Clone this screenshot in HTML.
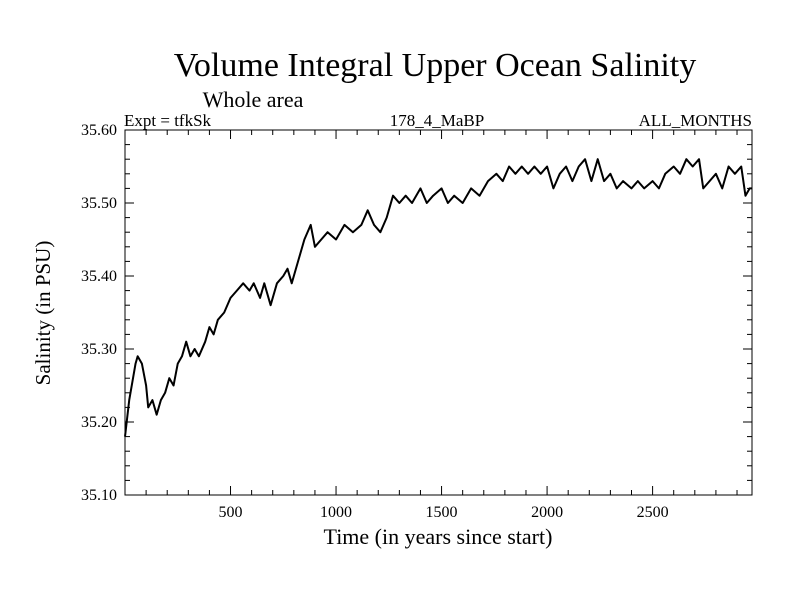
<!DOCTYPE html>
<html><head><meta charset="utf-8"><style>
body{margin:0;background:#fff;}
svg{display:block;font-family:"Liberation Serif",serif;}
</style></head><body>
<svg id="chart" width="800" height="600">
<text x="435" y="76" font-size="34" text-anchor="middle">Volume Integral Upper Ocean Salinity</text>
<text x="253" y="107" font-size="22" text-anchor="middle">Whole area</text>
<text x="124" y="126" font-size="17">Expt = tfkSk</text>
<text x="437" y="126" font-size="17" text-anchor="middle">178_4_MaBP</text>
<text x="752" y="126" font-size="17" text-anchor="end">ALL_MONTHS</text>
<text x="438" y="544" font-size="22" text-anchor="middle">Time (in years since start)</text>
<text transform="translate(50,313) rotate(-90)" font-size="21" text-anchor="middle">Salinity (in PSU)</text>
<g id="axes"></g>
<rect x="125" y="130" width="627" height="365" fill="none" stroke="#000" stroke-width="1"/>
</svg>
<script>
const years=[0,20,50,60,80,100,110,130,150,170,190,210,230,250,270,290,310,330,350,380,400,420,440,470,500,530,560,590,610,640,660,690,720,750,770,790,820,850,880,900,930,960,1000,1040,1080,1120,1150,1180,1210,1240,1270,1300,1330,1360,1400,1430,1460,1500,1530,1560,1600,1640,1680,1720,1760,1790,1820,1850,1880,1910,1940,1970,2000,2030,2060,2090,2120,2150,2180,2210,2240,2270,2300,2330,2360,2400,2430,2460,2500,2530,2560,2600,2630,2660,2690,2720,2740,2770,2800,2830,2860,2890,2920,2940,2960,2971];
const salinity=[35.18,35.23,35.28,35.29,35.28,35.25,35.22,35.23,35.21,35.23,35.24,35.26,35.25,35.28,35.29,35.31,35.29,35.30,35.29,35.31,35.33,35.32,35.34,35.35,35.37,35.38,35.39,35.38,35.39,35.37,35.39,35.36,35.39,35.40,35.41,35.39,35.42,35.45,35.47,35.44,35.45,35.46,35.45,35.47,35.46,35.47,35.49,35.47,35.46,35.48,35.51,35.50,35.51,35.50,35.52,35.50,35.51,35.52,35.50,35.51,35.50,35.52,35.51,35.53,35.54,35.53,35.55,35.54,35.55,35.54,35.55,35.54,35.55,35.52,35.54,35.55,35.53,35.55,35.56,35.53,35.56,35.53,35.54,35.52,35.53,35.52,35.53,35.52,35.53,35.52,35.54,35.55,35.54,35.56,35.55,35.56,35.52,35.53,35.54,35.52,35.55,35.54,35.55,35.51,35.52,35.52];
const xTickLabels=[500,1000,1500,2000,2500];
const yTickLabels=["35.10","35.20","35.30","35.40","35.50","35.60"];
const X0=125,X1=752,Y0=495,Y1=130,XMAX=2971,YMIN=35.1,YMAX=35.6;
const sx=v=>X0+(v/XMAX)*(X1-X0);
const sy=v=>Y0-(v-YMIN)/(YMAX-YMIN)*(Y0-Y1);
const NS="http://www.w3.org/2000/svg";
const g=document.getElementById('axes');
function mk(t,a){const e=document.createElementNS(NS,t);for(const k in a)e.setAttribute(k,a[k]);g.appendChild(e);return e;}
for(let v=100;v<XMAX;v+=100){const L=v%500===0?9:5;const x=sx(v);
 const t1=mk('line',{x1:x,x2:x,y1:Y0,y2:Y0-L,stroke:'#000'});
 
 
 const t2=mk('line',{x1:x,x2:x,y1:Y1,y2:Y1+L,stroke:'#000'});
 
 }
xTickLabels.forEach(v=>{const t=mk('text',{x:sx(v),y:Y0+22,'font-size':16,'text-anchor':'middle'});t.textContent=v;
 
 });
for(let i=0;i<=25;i++){const v=YMIN+i*0.02;const y=sy(v);const L=i%5===0?9:5;
 const a=mk('line',{x1:X0,x2:X0+L,y1:y,y2:y,stroke:'#000'});
 
 
 const b=mk('line',{x1:X1,x2:X1-L,y1:y,y2:y,stroke:'#000'});
 
 }
yTickLabels.forEach(s=>{const t=mk('text',{x:X0-8,y:sy(parseFloat(s))+5,'font-size':16,'text-anchor':'end'});t.textContent=s;
 
 });
const p=mk('polyline',{points:years.map((v,i)=>sx(v)+','+sy(salinity[i])).join(' '),fill:'none',stroke:'#000','stroke-width':2,'stroke-linejoin':'round'});


</script>
</body></html>
